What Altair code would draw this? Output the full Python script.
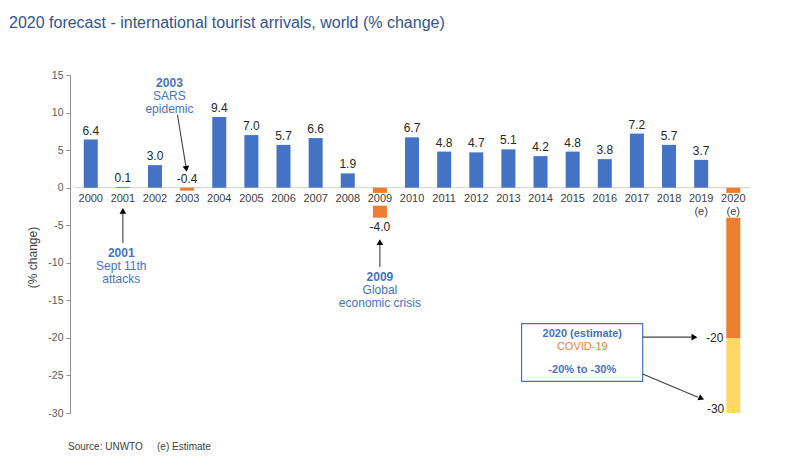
import altair as alt
import pandas as pd

# ---------------- data ----------------
years = list(range(2000, 2021))
changes = [6.4, 0.1, 3.0, -0.4, 9.4, 7.0, 5.7, 6.6, 1.9, -4.0,
           6.7, 4.8, 4.7, 5.1, 4.2, 4.8, 3.8, 7.2, 5.7, 3.7, None]
year_labels = [str(y) for y in years[:-2]] + ["2019\n(e)", "2020\n(e)"]
y_ticks = [-30, -25, -20, -15, -10, -5, 0, 5, 10, 15]
covid_low = -20
covid_high = -30

BLUE = "#4472C4"
ORANGE = "#ED7D31"
YELLOW = "#FFD966"
FONT = "Liberation Sans"

X_DOM = [1999.51, 2020.52]
Y_DOM = [-30, 15]

# bars
bar_rows = []
for y, v in zip(years, changes):
    if v is None:
        continue
    bar_rows.append({"year": y, "y0": 0, "y1": v, "c": BLUE if v >= 0 else ORANGE})
bar_rows.append({"year": 2020, "y0": 0, "y1": covid_low, "c": ORANGE})
bar_rows.append({"year": 2020, "y0": covid_low, "y1": covid_high, "c": YELLOW})
bars_df = pd.DataFrame(bar_rows)

# white gaps behind the year labels (where bars pass through the labels)
gap_df = pd.DataFrame([
    {"x0": 2009 - 0.3, "x1": 2009 + 0.3, "y0": -0.7, "y1": -2.4},
    {"x0": 2020 - 0.3, "x1": 2020 + 0.3, "y0": -0.7, "y1": -4.0},
])

xlab_df = pd.DataFrame({"year": years, "lab": year_labels, "y": [0] * len(years)})

val_rows = []
for y, v in zip(years, changes):
    if v is None:
        continue
    val_rows.append({"year": y, "v": v, "lab": f"{v:.1f}", "pos": max(v, 0) if v > -1 else v})
val_df = pd.DataFrame(val_rows)
val_up = val_df[val_df["pos"] >= 0]
val_dn = val_df[val_df["pos"] < 0]

base_x = alt.Scale(domain=X_DOM, nice=False, zero=False)
base_y = alt.Scale(domain=Y_DOM, nice=False)

AXIS_Y = alt.Axis(
    values=y_ticks,
    labelExpr="'' + datum.value",
    labelOverlap=False,
    labelFlush=False,
    labelBound=False,
    title="(% change)",
    titleFont=FONT,
    titleFontSize=12,
    titleFontWeight="normal",
    titleColor="#404040",
    titleX=-31,
    titleY=182,
    titleAngle=-90,
    labelFont=FONT,
    labelFontSize=10.5,
    labelColor="#595959",
    labelPadding=3,
    tickSize=4,
    tickColor="#8C8C8C",
    domainColor="#8C8C8C",
    grid=False,
)


def X(f):
    return alt.X(f, scale=base_x, axis=None)


def Y(f):
    return alt.Y(f, scale=base_y, axis=AXIS_Y)


# zero line
zero = alt.Chart(pd.DataFrame({"x0": [X_DOM[0]], "x1": [X_DOM[1]], "y": [0]})).mark_rule(
    color="#D0D0D0", strokeWidth=1
).encode(x=X("x0:Q"), x2="x1:Q", y=Y("y:Q"))

bars = alt.Chart(bars_df).mark_bar(size=14).encode(
    x=X("year:Q"),
    y=Y("y0:Q"),
    y2="y1:Q",
    color=alt.Color("c:N", scale=None),
)

gaps = alt.Chart(gap_df).mark_rect(color="white").encode(
    x=X("x0:Q"), x2="x1:Q", y=Y("y0:Q"), y2="y1:Q"
)

xlabels = alt.Chart(xlab_df).mark_text(
    font=FONT, fontSize=11, color="#404040", baseline="top", dy=5, lineBreak="\n", lineHeight=13
).encode(x=X("year:Q"), y=Y("y:Q"), text="lab:N")

vlab_up = alt.Chart(val_up).mark_text(
    font=FONT, fontSize=12, color="#262626", baseline="bottom", dy=-2
).encode(x=X("year:Q"), y=Y("pos:Q"), text="lab:N")
vlab_dn = alt.Chart(val_dn).mark_text(
    font=FONT, fontSize=12, color="#262626", baseline="top", dy=4
).encode(x=X("year:Q"), y=Y("pos:Q"), text="lab:N")

# ---------------- annotations ----------------
ann_text = pd.DataFrame([
    {"x": 2002.45, "y": 13.94, "t": "2003", "w": "bold", "c": BLUE, "s": 12},
    {"x": 2002.45, "y": 12.2, "t": "SARS", "w": "normal", "c": BLUE, "s": 12},
    {"x": 2002.45, "y": 10.5, "t": "epidemic", "w": "normal", "c": BLUE, "s": 12},
    {"x": 2000.95, "y": -8.7, "t": "2001", "w": "bold", "c": BLUE, "s": 12},
    {"x": 2000.95, "y": -10.43, "t": "Sept 11th", "w": "normal", "c": BLUE, "s": 12},
    {"x": 2000.95, "y": -12.16, "t": "attacks", "w": "normal", "c": BLUE, "s": 12},
    {"x": 2009.0, "y": -11.89, "t": "2009", "w": "bold", "c": BLUE, "s": 12},
    {"x": 2009.0, "y": -13.6, "t": "Global", "w": "normal", "c": BLUE, "s": 12},
    {"x": 2009.0, "y": -15.4, "t": "economic crisis", "w": "normal", "c": BLUE, "s": 12},
    {"x": 2015.3, "y": -19.45, "t": "2020 (estimate)", "w": "bold", "c": BLUE, "s": 11},
    {"x": 2015.3, "y": -21.15, "t": "COVID-19", "w": "normal", "c": ORANGE, "s": 11},
    {"x": 2015.3, "y": -24.3, "t": "-20% to -30%", "w": "bold", "c": BLUE, "s": 11},
])


def txt(weight, size):
    d = ann_text[(ann_text["w"] == weight) & (ann_text["s"] == size)]
    return alt.Chart(d).mark_text(font=FONT, fontSize=size, fontWeight=weight, baseline="middle").encode(
        x=X("x:Q"), y=Y("y:Q"), text="t:N", color=alt.Color("c:N", scale=None)
    )


side_labels = pd.DataFrame([
    {"x": 2019.42, "y": -20.0, "t": "-20"},
    {"x": 2019.45, "y": -29.5, "t": "-30"},
])
side = alt.Chart(side_labels).mark_text(font=FONT, fontSize=12, color="#262626").encode(
    x=X("x:Q"), y=Y("y:Q"), text="t:N"
)

box = alt.Chart(pd.DataFrame([{"x0": 2013.41, "x1": 2017.18, "y0": -18.1, "y1": -25.8}])).mark_rect(
    fill="white", stroke=BLUE, strokeWidth=1.2
).encode(x=X("x0:Q"), x2="x1:Q", y=Y("y0:Q"), y2="y1:Q")

arrows = pd.DataFrame([
    {"x0": 2002.70, "y0": 9.67, "x1": 2002.96, "y1": 2.9},
    {"x0": 2001.0, "y0": -7.37, "x1": 2001.0, "y1": -3.4},
    {"x0": 2009.0, "y0": -10.56, "x1": 2009.0, "y1": -7.5},
    {"x0": 2017.18, "y0": -19.9, "x1": 2018.7, "y1": -19.9},
    {"x0": 2017.18, "y0": -24.8, "x1": 2018.9, "y1": -27.9},
])
arrow_lines = alt.Chart(arrows).mark_rule(color="#404040", strokeWidth=1.1).encode(
    x=X("x0:Q"), x2="x1:Q", y=Y("y0:Q"), y2="y1:Q"
)

heads = pd.DataFrame([
    {"x": 2002.97, "y": 2.62, "a": 172},
    {"x": 2001.0, "y": -3.22, "a": 0},
    {"x": 2009.0, "y": -7.37, "a": 0},
    {"x": 2018.76, "y": -19.9, "a": 90},
    {"x": 2018.98, "y": -28.0, "a": 113},
])
arrow_heads = alt.Chart(heads).mark_point(
    shape="triangle", filled=True, color="black", size=45, opacity=1
).encode(x=X("x:Q"), y=Y("y:Q"), angle=alt.Angle("a:Q", scale=None))

# title and footer (positioned relative to the plot area)
title = alt.Chart(pd.DataFrame({"t": ["2020 forecast - international tourist arrivals, world (% change)"]})).mark_text(
    font=FONT, fontSize=16, color="#2F5496", align="left", baseline="middle"
).encode(x=alt.value(-61), y=alt.value(-52), text="t:N")

footer = alt.Chart(pd.DataFrame({"t": ["Source: UNWTO", "(e) Estimate"], "px": [-2, 87]})).mark_text(
    font=FONT, fontSize=10, color="#404040", align="left", baseline="middle"
).encode(x=alt.X("px:Q", scale=None), y=alt.value(372), text="t:N")

chart = alt.layer(
    zero, bars, gaps, xlabels, vlab_up, vlab_dn,
    box, arrow_lines, arrow_heads,
    txt("bold", 12), txt("normal", 12), txt("bold", 11), txt("normal", 11), side,
    title, footer,
).properties(
    width=685,
    height=338,
    background="white",
    autosize=alt.AutoSizeParams(type="none"),
    padding={"left": 62, "top": 67, "right": 30, "bottom": 45},
).configure_view(stroke=None)

chart.save("out.html", embed_options={"renderer": "svg", "actions": False})
